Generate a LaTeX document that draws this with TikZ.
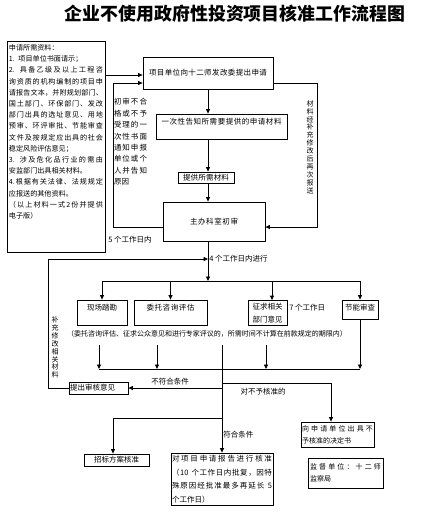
\documentclass[tikz,border=0pt]{standalone}
\usepackage{fontspec}
\setmainfont{Noto Sans CJK SC}
\usetikzlibrary{arrows.meta}
\ExplSyntaxOn
\NewDocumentCommand\sline{m m}{\leavevmode\hbox~to~#1{\tl_map_inline:nn{#2}{##1\hfil}\unskip}}
\NewDocumentCommand\vstack{m m}{\vbox{\baselineskip=#1\lineskiplimit=-\maxdimen\tl_map_inline:nn{#2}{\hbox{##1}}}}
\ExplSyntaxOff
\tikzset{
  f75/.style={font=\fontsize{7.5}{9}\selectfont},
  f7/.style={font=\fontsize{7}{8.5}\selectfont},
  box/.style={draw, inner sep=0pt, f75},
  txt/.style={inner sep=0pt, f75},
  topt/.style={text height=6pt, text depth=9.3pt},
  arr/.style={-{Triangle[length=4.5pt,width=4pt]}},
}
\begin{document}
\begin{tikzpicture}[x=1pt, y=-1pt, line width=0.8pt]
\useasboundingbox (0,0) rectangle (437,517);
\fill[white] (0,0) rectangle (437,517);

% title
\node[inner sep=0pt, font=\fontsize{17.9}{20}\selectfont\bfseries] (title) at (235,14) {企业不使用政府性投资项目核准工作流程图};

% left materials box
\node[box, minimum width=98pt, minimum height=211pt,
  label={[inner sep=0pt, anchor=north west, xshift=2pt, yshift=-3.5pt, text width=94pt, align=left, font=\fontsize{7.1}{11.2}\selectfont]north west:{%
申请所需资料：\\
1. 项目单位书面请示；\\
\sline{94pt}{{2. }具备乙级及以上工程咨}\\
\sline{94pt}{询资质的机构编制的项目申}\\
\sline{94pt}{请报告文本，并附规划部门、}\\
\sline{94pt}{国土部门、环保部门、发改}\\
\sline{94pt}{部门出具的选址意见、用地}\\
\sline{94pt}{预审、环评审批、节能审查}\\
\sline{94pt}{文件及按规定应出具的社会}\\
稳定风险评估意见；\\
\sline{94pt}{{3. }涉及危化品行业的需由}\\
安监部门出具相关材料。\\
\sline{94pt}{{4.}根据有关法律、法规规定}\\
应报送的其他资料。\\
\sline{94pt}{（以上材料一式{2}份并提供}\\
电子版）}}] (req) at (56,146.5) {};

% upper chain
\node[box, minimum width=130pt, minimum height=32pt] (apply) at (208,73) {\sline{118pt}{项目单位向十二师发改委提出申请}};
\node[box, topt, minimum width=131pt, minimum height=25pt] (inform) at (221.5,126.5) {\sline{120pt}{一次性告知所需要提供的申请材料}};
\node[box, minimum width=56pt, minimum height=11pt] (provide) at (206,177.5) {\sline{46pt}{提供所需材料}};
\node[box, minimum width=102pt, minimum height=39pt] (review) at (214,221.5) {\sline{48pt}{主办科室初审}};

\node[txt, text width=33pt, align=left, font=\fontsize{7.5}{11.4}\selectfont] (rej) at (130.5,142) {%
\sline{33pt}{初审不合}\\
\sline{33pt}{格或不予}\\
\sline{33pt}{受理的一}\\
\sline{33pt}{次性书面}\\
\sline{33pt}{通知申报}\\
\sline{33pt}{单位或个}\\
\sline{33pt}{人并告知}\\
原因};
\node[txt, f7] (resub) at (310,147) {\vstack{7.9pt}{材料经补充修改后再次报送}};
\node[txt, anchor=west] (d5) at (108,240) {5 个工作日内};
\node[txt, anchor=west] (d4) at (209,259) {4 个工作日内进行};
\node[txt, f7] (supp) at (55,347.5) {\vstack{7.9pt}{补充修改相关材料}};

% middle row
\node[box, topt, minimum width=50pt, minimum height=25pt] (xc) at (102,312.5) {现场踏勘};
\node[box, topt, minimum width=73pt, minimum height=25pt] (wt) at (170.5,312.5) {\sline{48pt}{委托咨询评估}};
\node[box, align=center, font=\fontsize{7.5}{12.5}\selectfont, minimum width=39pt, minimum height=25pt] (zq) at (267.5,313) {征求相关\\部门意见};
\node[txt, anchor=west] (d7) at (289,308) {7 个工作日};
\node[box, text height=6pt, text depth=3.3pt, minimum width=36pt, minimum height=19pt] (jn) at (360,309.5) {节能审查};
\node[txt, f7] (note) at (207,334) {（委托咨询评估、征求公众意见和进行专家评议的，所需时间不计算在前款规定的期限内）};

% lower part
\node[box, minimum width=59pt, minimum height=12pt] (audit) at (98.5,388) {\hbox to 57pt{提出审核意见\hfil}};
\node[txt] (nf) at (170,381.5) {不符合条件};
\node[txt] (dn) at (263,392) {对不予核准的};
\node[txt, anchor=west] (fh) at (223,435) {符合条件};
\node[box, text width=71pt, align=left, font=\fontsize{7}{12}\selectfont, minimum width=73pt, minimum height=25pt] (no) at (337.5,434.5) {\sline{71pt}{向申请单位出具不}\\予核准的决定书};
\node[box, text width=71pt, align=left, font=\fontsize{7}{11.5}\selectfont, minimum width=75pt, minimum height=30pt] (jd) at (345.5,473) {\sline{71pt}{监督单位：十二师}\\监察局};
\node[box, minimum width=65pt, minimum height=12pt] (zb) at (116.5,460) {招标方案核准};
\node[box, text width=100pt, align=left, font=\fontsize{7.5}{13.5}\selectfont, minimum width=102pt, minimum height=52pt] (hz) at (222,479) {%
\sline{100pt}{对项目申请报告进行核准}\\
\sline{100pt}{（{10 }个工作日内批复，因特}\\
\sline{100pt}{殊原因经批准最多再延长{ 5}}\\
个工作日）};

% coordinates
\coordinate (a1) at ([yshift=-2pt]apply.west);
\coordinate (lc) at (113,227);
\coordinate (rc) at (317,227);
\coordinate (fb) at (48,259);
\coordinate (b1l) at (102,281);
\coordinate (b1r) at (360,281);
\coordinate (n1) at (99,345);
\coordinate (n2) at (157,345);
\coordinate (n3) at (266,345);
\coordinate (m1) at (222,345);
\coordinate (b2l) at (99,369);
\coordinate (b2r) at (360,369);
\coordinate (br) at (222,383);
\coordinate (bl) at (222,418);

% connectors upper
\draw[arr] (req.east |- a1) -- (a1);
\draw[arr] ([yshift=-5.5pt]review.west) -- (lc) |- ([yshift=-10pt]apply.west);
\draw[arr] (apply.south) -- (apply.south |- inform.north);
\draw[arr] (apply.south |- inform.south) -- (apply.south |- provide.north);
\draw[arr] (apply.south |- provide.south) -- (apply.south |- review.north);
\draw[arr] ([yshift=-10pt]apply.east) -| (rc) -- ([yshift=-5.5pt]review.east);
\draw[arr] (apply.south |- review.south) -- (apply.south |- b1l);
\draw[arr] (audit.west) -| (fb) -- (fb -| apply.south);

% bus 1
\draw (b1l) -- (b1r);
\draw[arr] (xc.north |- b1l) -- (xc.north);
\draw[arr] (wt.north |- b1l) -- (wt.north);
\draw[arr] ([xshift=4.5pt]zq.north |- b1l) -- ([xshift=4.5pt]zq.north);
\draw[arr] (jn.north |- b1l) -- (jn.north);

% bus 2
\draw[arr] (n1) -- (n1 |- b2l);
\draw[arr] (n2) -- (n2 |- b2l);
\draw[arr] (n3) -- (n3 |- b2l);
\draw[arr] (jn.south) -- (jn.south |- b2l);
\draw (b2l) -- (b2r);

% main decision line
\draw[arr] (m1) -- (hz.north);
\draw[arr] (m1 |- audit.east) -- (audit.east);
\draw[arr] (br) -| ([xshift=-6.5pt]no.north);
\draw[arr] (bl) -| ([xshift=-3.5pt]zb.north);
\end{tikzpicture}
\end{document}
